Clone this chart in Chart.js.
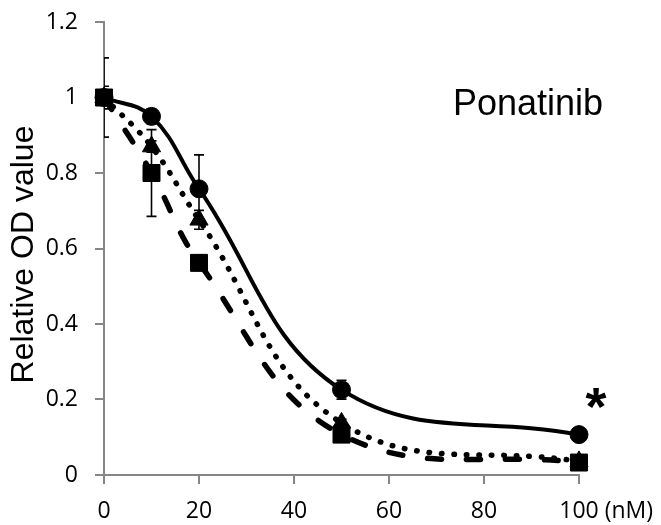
<!DOCTYPE html>
<html>
<head>
<meta charset="utf-8">
<script src="https://cdn.jsdelivr.net/npm/chart.js@4.4.1/dist/chart.umd.min.js"></script>
<style>
  html, body { margin: 0; padding: 0; background: #fff; }
  #wrap { width: 661px; height: 525px; position: relative; }
</style>
</head>
<body>
<div id="wrap"><canvas id="chartOD"></canvas></div>
<script>
// dose (nM) and relative OD values
const doses = [0, 10, 20, 50, 100];
const odCircle = [1.0, 0.95, 0.758, 0.226, 0.107];
const errCircle = [0.105, 0.02, 0.09, 0.025, 0.01];
const odTriangle = [1.0, 0.87, 0.676, 0.138, 0.036];
const errTriangle = [0.03, 0.015, 0.025, 0.01, 0.01];
const odSquare = [1.0, 0.80, 0.562, 0.107, 0.033];
const errSquare = [0.02, 0.115, 0.02, 0.02, 0.01];
const yTicks = [0, 0.2, 0.4, 0.6, 0.8, 1, 1.2];
const xTicks = [0, 20, 40, 60, 80, 100];

const axisGray = "#868686";
const tickFont = { family: "'Open Sans'", size: 23 };

function serie(label, valores, erros, estilo, raio, dash, largura, ordem) {
    return {
        label: label,
        data: doses.map((x, i) => ({ x: x, y: valores[i] })),
        erros: erros,
        borderColor: "#000",
        backgroundColor: "#000",
        pointStyle: estilo,
        pointRadius: raio,
        pointHoverRadius: raio,
        pointBorderWidth: 1,
        borderWidth: largura,
        borderDash: dash,
        borderCapStyle: "round",
        tension: 0.4,
        clip: false,
        order: ordem,
    };
}

// barras de erro desenhadas com as escalas do grafico
const errorBars = {
    id: "errorBars",
    afterDatasetsDraw(chart) {
        const ctx = chart.ctx;
        const xs = chart.scales.x;
        const ys = chart.scales.y;
        const area = chart.chartArea;
        ctx.save();
        ctx.beginPath();
        ctx.rect(area.left, 0, area.right - area.left + 20, chart.height);
        ctx.clip();
        ctx.strokeStyle = "#000";
        ctx.lineWidth = 1.6;
        chart.data.datasets.forEach((ds) => {
            ds.data.forEach((p, i) => {
                const e = ds.erros[i];
                const px = xs.getPixelForValue(p.x);
                const top = ys.getPixelForValue(p.y + e);
                const bot = ys.getPixelForValue(p.y - e);
                ctx.beginPath();
                ctx.moveTo(px, top);
                ctx.lineTo(px, bot);
                ctx.moveTo(px - 5, top);
                ctx.lineTo(px + 5, top);
                ctx.moveTo(px - 5, bot);
                ctx.lineTo(px + 5, bot);
                ctx.stroke();
            });
        });
        ctx.restore();
    },
};

const textos = {
    id: "textos",
    afterDraw(chart) {
        const ctx = chart.ctx;
        const xs = chart.scales.x;
        ctx.save();
        ctx.fillStyle = "#000";

        // titulo do farmaco
        ctx.font = "36px 'Liberation Sans'";
        ctx.textAlign = "left";
        ctx.textBaseline = "alphabetic";
        ctx.fillText("Ponatinib", 453, 115);

        // titulo do eixo y
        ctx.save();
        ctx.translate(33, 254.5);
        ctx.rotate(-Math.PI / 2);
        ctx.font = "32px 'Liberation Sans'";
        ctx.textAlign = "center";
        ctx.fillText("Relative OD value", 0, 0);
        ctx.restore();

        // unidade depois do ultimo tick
        const itens = xs.getLabelItems();
        const ultimo = itens[itens.length - 1];
        ctx.font = tickFont.size + "px " + tickFont.family;
        const w = ctx.measureText("100").width;
        ctx.textAlign = "left";
        ctx.textBaseline = ultimo.options.textBaseline;
        ctx.fillText(" (nM)", ultimo.options.translation[0] + w / 2, ultimo.options.translation[1] + (ultimo.textOffset || 0));

        // asterisco
        ctx.font = "bold 100px 'Liberation Sans'";
        let m = ctx.measureText("*");
        const tam = 100 * 21 / (m.actualBoundingBoxRight + m.actualBoundingBoxLeft);
        ctx.font = "bold " + tam + "px 'Liberation Sans'";
        m = ctx.measureText("*");
        const cx = 596, cy = 413;
        const inkW = m.actualBoundingBoxRight + m.actualBoundingBoxLeft;
        const inkH = m.actualBoundingBoxAscent + m.actualBoundingBoxDescent;
        ctx.textBaseline = "alphabetic";
        ctx.fillText("*", cx - inkW / 2 + m.actualBoundingBoxLeft, cy - inkH / 2 + m.actualBoundingBoxAscent);
        ctx.restore();
    },
};

new Chart(document.getElementById("chartOD"), {
    type: "line",
    data: {
        datasets: [
            serie("Ponatinib A", odCircle, errCircle, "circle", 9, [], 4, 3),
            serie("Ponatinib B", odTriangle, errTriangle, "triangle", 10.5, [0.5, 12], 5.5, 2),
            serie("Ponatinib C", odSquare, errSquare, "rect", 12, [14, 25], 5.5, 1),
        ],
    },
    plugins: [errorBars, textos],
    options: {
        responsive: true,
        maintainAspectRatio: false,
        animation: false,
        events: [],
        layout: { padding: { top: 22, right: 82, left: 0, bottom: 0 } },
        plugins: {
            legend: { display: false },
            tooltip: { enabled: false },
        },
        scales: {
            x: {
                type: "linear",
                min: 0,
                max: 100,
                afterBuildTicks: (s) => { s.ticks = xTicks.map((v) => ({ value: v })); },
                afterFit: (s) => { s.height = 50; },
                ticks: { font: tickFont, color: "#000", padding: 14, maxRotation: 0 },
                grid: { drawOnChartArea: false, drawTicks: true, tickLength: 9, color: axisGray, lineWidth: 2 },
                border: { color: axisGray, width: 2 },
            },
            y: {
                type: "linear",
                min: 0,
                max: 1.2,
                afterBuildTicks: (s) => { s.ticks = yTicks.map((v) => ({ value: v })); },
                afterFit: (s) => {
                    s.width = 104;
                    s.paddingTop = 0;
                    s.paddingBottom = 0;
                },
                ticks: {
                    font: tickFont,
                    color: "#000",
                    padding: 17,
                    callback: (v) => String(Math.round(v * 10) / 10),
                },
                grid: { drawOnChartArea: false, drawTicks: true, tickLength: 9, color: axisGray, lineWidth: 2 },
                border: { color: axisGray, width: 2 },
            },
        },
    },
});
</script>
</body>
</html>
